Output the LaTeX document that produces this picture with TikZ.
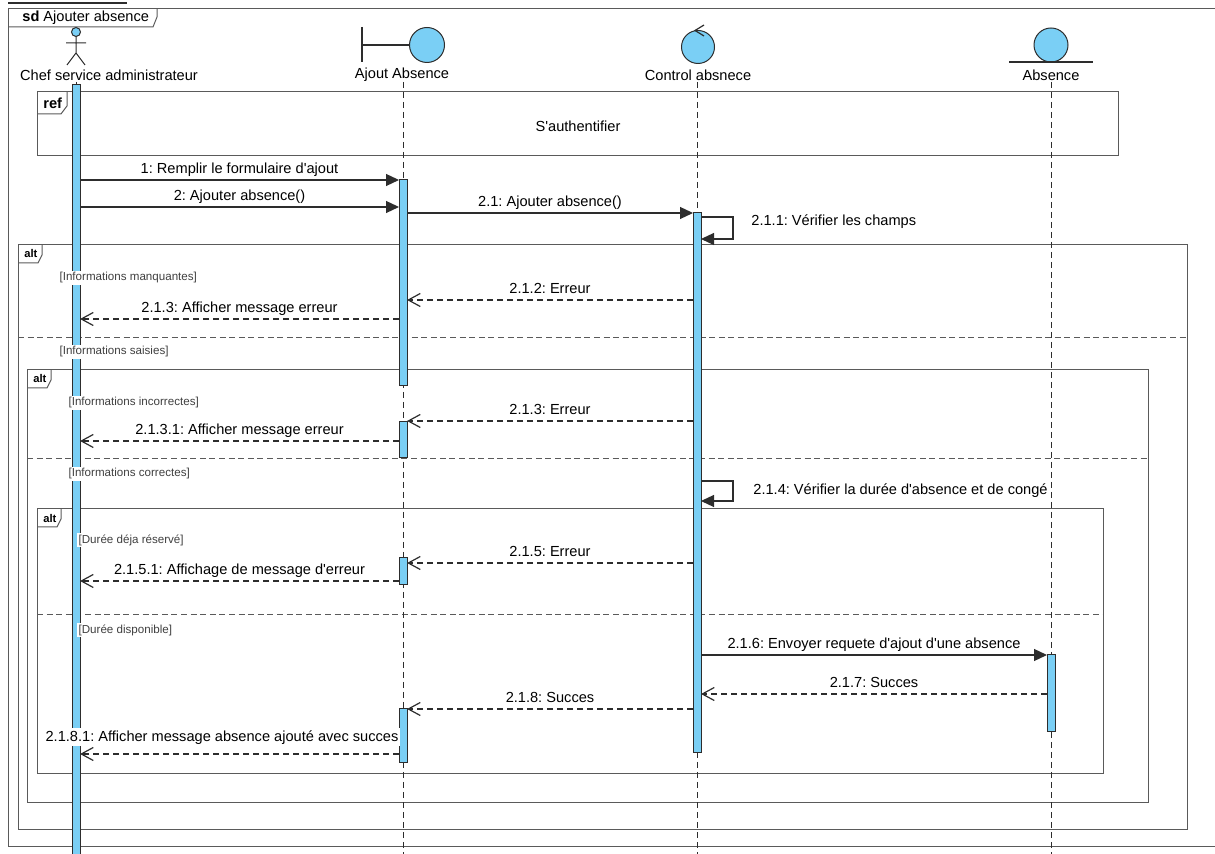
\documentclass[tikz,border=0pt]{standalone}
\usepackage{fontspec}
\setmainfont{Liberation Sans}
\usetikzlibrary{arrows.meta}
\definecolor{barblue}{RGB}{122,207,245}
\definecolor{framegray}{RGB}{90,90,90}
\definecolor{msggray}{RGB}{45,45,45}
\newcommand{\msgfont}{\fontsize{7.3}{8.8}\selectfont}
\newcommand{\guardfont}{\fontsize{5.8}{7}\selectfont}
\newcommand{\tagfont}{\fontsize{5.6}{6.7}\selectfont\bfseries}
\newcommand{\qs}{\textquotesingle}
\frenchspacing
\begin{document}
\begin{tikzpicture}[x=0.5pt,y=-0.5pt,
  frameline/.style={draw=framegray, line width=0.5pt},
  sepline/.style={draw=framegray, line width=0.5pt, dash pattern=on 3pt off 1.8pt},
  lifeline/.style={draw=msggray, line width=0.5pt, dash pattern=on 3pt off 2pt},
  actbar/.style={draw=msggray, fill=barblue, line width=0.5pt},
  headshape/.style={draw=msggray, fill=barblue, line width=0.5pt},
  msg/.style={draw=msggray, line width=0.6pt, -{Triangle[length=6.5pt,width=6pt]}},
  ret/.style={draw=msggray, line width=0.6pt, dash pattern=on 3pt off 2pt, -{Straight Barb[length=6pt,width=6.5pt]}},
  lbl/.style={font=\msgfont, anchor=base, yshift=3pt, inner sep=1pt},
  selflbl/.style={font=\msgfont, anchor=west, inner sep=0pt},
  headlbl/.style={font=\msgfont, inner sep=1pt},
  guard/.style={font=\guardfont, text=black!75, fill=white, anchor=west, inner sep=0.6pt},
  tag/.style={font=\tagfont, anchor=west, inner sep=0pt}]
  \useasboundingbox (0,0) rectangle (1215,854);

  % sd frame
  \draw[frameline] (1215,9) -- (8,9) -- (8,846) -- (1215,846);
  \draw[frameline] (157,9) -- (157,17) -- (153,27) -- (8,27);
  \node[font=\msgfont, anchor=west, inner sep=0pt] (title) at (22,18) {\textbf{sd} Ajouter absence};
  \draw[msggray, line width=0.65pt] (8,3) -- (127,3);

  % Lifeline heads
  \draw[headshape] (76,32) circle[radius=4.5];
  \draw[msggray, line width=0.5pt] (76,36.5) -- (76,53) (66,43) -- (86,43) (67,65) -- (76,53) -- (85,65);
  \node[headlbl] (chef) at (109,75) {Chef service administrateur};

  \draw[msggray, line width=0.6pt] (362,27) -- (362,62) (362,45) -- (409.5,45);
  \draw[headshape] (427,45) circle[radius=17.5];
  \node[headlbl] (ajout) at (402,75) {Ajout Absence};

  \draw[headshape] (698,47) circle[radius=16.5];
  \draw[msggray, line width=0.6pt] (704,25) -- (695,30.5) -- (704,36);
  \node[headlbl] (ctrl) at (698,75) {Control absnece};

  \draw[headshape] (1051,45) circle[radius=17];
  \draw[msggray, line width=0.6pt] (1009,62) -- (1093,62);
  \node[headlbl] (absence) at (1051,75) {Absence};

  % ref and alt frames
  \draw[frameline] (37,92) rectangle (1118,156);
  \draw[frameline] (67,92) -- (67,106) -- (61,114) -- (37,114);
  \node[tag, font=\fontsize{7.3}{8}\selectfont\bfseries] (reftag) at (43,103) {ref};
  \node[font=\msgfont] (refname) at (578,126) {S\qs authentifier};

  \foreach \l/\t/\r/\b/\s [count=\i] in {18/245/1187/829/338, 27/370/1148/802/459, 37/509/1103/773/615} {
    \draw[frameline] (\l,\t) rectangle (\r,\b);
    \draw[frameline] (\l+24,\t) -- (\l+24,\t+10) -- (\l+20,\t+18) -- (\l,\t+18);
    \node[tag] (alt\i) at (\l+6,\t+9) {alt};
    \draw[sepline] (\l,\s) -- (\r,\s);
  }

  % Lifelines
  \foreach \n/\x in {chef/76, ajout/403, ctrl/697, absence/1051}
    \draw[lifeline] (\x,82) coordinate (\n top) -- (\x,854) coordinate (\n bot);

  % Activations
  \draw[actbar] (72,85) rectangle (80,858);
  \draw[actbar] (399,180) rectangle (407,386);
  \draw[actbar] (399,422) rectangle (407,458);
  \draw[actbar] (399,558) rectangle (407,585);
  \draw[actbar] (399,709) rectangle (407,762);
  \draw[actbar] (693,213) rectangle (701,752);
  \draw[actbar] (1047,655) rectangle (1055,732);

  % Messages
  \coordinate (m1s) at (80,180);   \coordinate (m1e) at (399,180);
  \coordinate (m2s) at (80,207);   \coordinate (m2e) at (399,207);
  \coordinate (m21s) at (407,213); \coordinate (m21e) at (693,213);
  \draw[msg] (m1s) -- node[lbl] {1: Remplir le formulaire d\qs ajout} (m1e);
  \draw[msg] (m2s) -- node[lbl] {2: Ajouter absence()} (m2e);
  \draw[msg] (m21s) -- node[lbl] {2.1: Ajouter absence()} (m21e);

  \coordinate (s211s) at (701,217); \coordinate (s211e) at (701,239);
  \draw[msg] (s211s) -- ++(32,0) |- (s211e);
  \node[selflbl] (s211) at (751,222) {2.1.1: Vérifier les champs};

  \coordinate (r212s) at (693,300); \coordinate (r212e) at (407,300);
  \coordinate (r213s) at (399,319); \coordinate (r213e) at (80,319);
  \draw[ret] (r212s) -- node[lbl] {2.1.2: Erreur} (r212e);
  \draw[ret] (r213s) -- node[lbl] {2.1.3: Afficher message erreur} (r213e);

  \coordinate (r2130s) at (693,421); \coordinate (r2130e) at (407,421);
  \coordinate (r2131s) at (399,441); \coordinate (r2131e) at (80,441);
  \draw[ret] (r2130s) -- node[lbl] {2.1.3: Erreur} (r2130e);
  \draw[ret] (r2131s) -- node[lbl] {2.1.3.1: Afficher message erreur} (r2131e);

  \coordinate (s214s) at (701,481); \coordinate (s214e) at (701,501);
  \draw[msg] (s214s) -- ++(32,0) |- (s214e);
  \node[selflbl] (s214) at (753,491) {2.1.4: Vérifier la durée d\qs absence et de congé};

  \coordinate (r215s) at (693,563); \coordinate (r215e) at (407,563);
  \coordinate (r2151s) at (399,581); \coordinate (r2151e) at (80,581);
  \draw[ret] (r215s) -- node[lbl] {2.1.5: Erreur} (r215e);
  \draw[ret] (r2151s) -- node[lbl] {2.1.5.1: Affichage de message d\qs erreur} (r2151e);

  \coordinate (m216s) at (701,655); \coordinate (m216e) at (1047,655);
  \coordinate (r217s) at (1047,694); \coordinate (r217e) at (701,694);
  \coordinate (r218s) at (693,709); \coordinate (r218e) at (407,709);
  \draw[msg] (m216s) -- node[lbl] {2.1.6: Envoyer requete d\qs ajout d\qs une absence} (m216e);
  \draw[ret] (r217s) -- node[lbl] {2.1.7: Succes} (r217e);
  \draw[ret] (r218s) -- node[lbl] {2.1.8: Succes} (r218e);

  \coordinate (r2181s) at (399,754); \coordinate (r2181e) at (80,754);
  \draw[ret] (r2181s) -- node[lbl, fill=white, xshift=-8.75pt, yshift=3.5pt] {2.1.8.1: Afficher message absence ajouté avec succes} (r2181e);

  % Guards
  \node[guard] (g1) at (58,278) {[Informations manquantes]};
  \node[guard] (g2) at (58,352) {[Informations saisies]};
  \node[guard] (g3) at (67,403) {[Informations incorrectes]};
  \node[guard] (g4) at (67,474) {[Informations correctes]};
  \node[guard] (g5) at (77,540) {[Durée déja réservé]};
  \node[guard] (g6) at (77,630) {[Durée disponible]};
\end{tikzpicture}
\end{document}
